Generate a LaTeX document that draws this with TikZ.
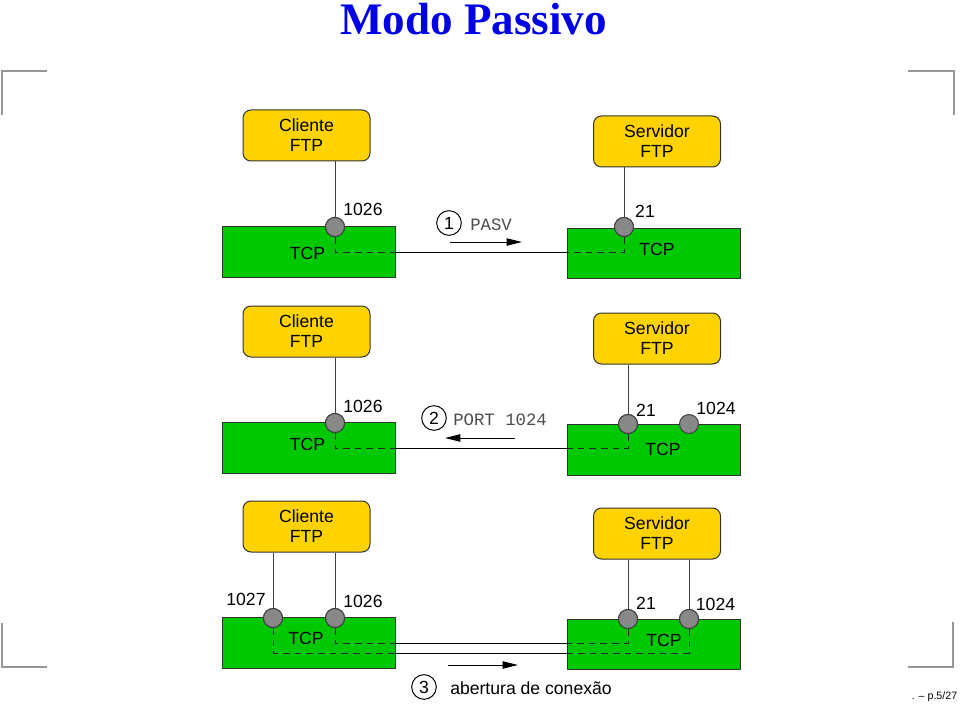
\documentclass[tikz,border=0pt]{standalone}
\usepackage{fontspec}
\setmainfont{Liberation Sans}
\setmonofont{Liberation Mono}
\newfontfamily\titlefont{Liberation Serif}
\usetikzlibrary{arrows.meta}
\definecolor{ftpgold}{RGB}{255,211,0}
\definecolor{tcpgreen}{RGB}{0,200,0}
\definecolor{portgray}{RGB}{136,136,136}
\definecolor{titleblue}{RGB}{0,0,230}
\definecolor{cornergray}{RGB}{150,150,150}
\tikzset{
  txt/.style={font=\fontsize{13.2}{15}\selectfont, inner sep=0pt},
  ftpbox/.style={rectangle, rounded corners=6pt, fill=ftpgold, draw=black!80, line width=0.75pt,
    minimum width=95.25pt, minimum height=38.25pt, align=center, inner sep=0pt,
    font=\fontsize{13.2}{15}\selectfont},
  tcpbox/.style={rectangle, fill=tcpgreen, draw=black!80, line width=0.75pt,
    minimum width=129.75pt, minimum height=37.75pt, inner sep=0pt},
  port/.style={circle, fill=portgray, draw=black!75, line width=0.75pt, minimum size=14.25pt, inner sep=0pt},
  stepnum/.style={circle, draw=black, line width=0.75pt, minimum size=18.5pt, inner sep=0pt,
    font=\fontsize{13.2}{15}\selectfont},
  mono/.style={font=\fontsize{13}{15}\ttfamily, text=black!70, inner sep=0pt},
  vconn/.style={draw=black!75, line width=0.75pt},
  hconn/.style={draw=black, line width=0.75pt},
  dconn/.style={draw=black!85, line width=0.75pt, dash pattern=on 5pt off 3.75pt},
  flow/.style={draw=black, line width=0.75pt, -{Triangle[length=11.5pt,width=5.5pt]}},
  cornermark/.style={draw=cornergray, line width=1.1pt},
}
\begin{document}
\begin{tikzpicture}[x=0.75pt,y=-0.75pt]
\useasboundingbox (0,0) rectangle (960,706);

% title
\node[font=\titlefont\bfseries\fontsize{33.8}{40}\selectfont, text=titleblue, inner sep=0pt] (title) at (473.5,19) {Modo Passivo};

% corner marks
\draw[cornermark] (2,115) -- (2,71) -- (47,71);
\draw[cornermark] (908,71) -- (954,71) -- (954,115);
\draw[cornermark] (2,623) -- (2,667) -- (47,667);
\draw[cornermark] (908,667) -- (953,667) -- (953,622);

% footer
\node[font=\fontsize{8}{10}\selectfont, inner sep=0pt] (footer) at (934.5,697) {. -- p.5/27};

%%%%%%%%%%%%%%%% Panel 1
\node[ftpbox] (cli1) at (306.5,135.5) {Cliente\\FTP};
\node[ftpbox] (srv1) at (657,141.5) {Servidor\\FTP};
\node[tcpbox] (tcpL1) at (308.5,252) {};
\node[tcpbox] (tcpR1) at (654,253.5) {};
\node[txt] (tL1) at (307.5,253) {TCP};
\node[txt] (tR1) at (657,249.5) {TCP};
\node[port] (pL1) at (335,227) {};
\node[port] (pR1) at (624,227) {};
\node[txt] (lL1) at (363,209.5) {1026};
\node[txt] (lR1) at (645,211) {21};
\coordinate (dL1) at (335,252);
\coordinate (dR1) at (624,252);
\draw[vconn] (cli1.south -| pL1) -- (pL1.north);
\draw[vconn] (srv1.south -| pR1) -- (pR1.north);
\draw[dconn] (pL1.south) -- (dL1) -- (tcpL1.east |- dL1);
\draw[dconn] (pR1.south) -- (dR1) -- (tcpR1.west |- dR1);
\draw[hconn] (tcpL1.east |- dL1) -- (tcpR1.west |- dL1);
\node[port] at (pL1) {};
\node[port] at (pR1) {};
\node[stepnum] (s1) at (449,223) {1};
\node[mono, anchor=west] (m1) at (470,225) {PASV};
\coordinate (a1s) at (450,242);
\coordinate (a1e) at (522,242);
\draw[flow] (a1s) -- (a1e);

%%%%%%%%%%%%%%%% Panel 2
\node[ftpbox] (cli2) at (306.5,331.5) {Cliente\\FTP};
\node[ftpbox] (srv2) at (657,338.5) {Servidor\\FTP};
\node[tcpbox] (tcpL2) at (308.5,448) {};
\node[tcpbox] (tcpR2) at (654,450) {};
\node[txt] (tL2) at (307.5,444.5) {TCP};
\node[txt] (tR2) at (663,449.5) {TCP};
\node[port] (pL2) at (335,423) {};
\node[port] (pR2a) at (628,424) {};
\node[port] (pR2b) at (689,424) {};
\node[txt] (lL2) at (363,406.5) {1026};
\node[txt] (lR2a) at (646,410.5) {21};
\node[txt] (lR2b) at (716,408.5) {1024};
\coordinate (dL2) at (335,448.5);
\coordinate (dR2) at (628,448.5);
\draw[vconn] (cli2.south -| pL2) -- (pL2.north);
\draw[vconn] (srv2.south -| pR2a) -- (pR2a.north);
\draw[dconn] (pL2.south) -- (dL2) -- (tcpL2.east |- dL2);
\draw[dconn] (pR2a.south) -- (dR2) -- (tcpR2.west |- dR2);
\draw[hconn] (tcpL2.east |- dL2) -- (tcpR2.west |- dL2);
\node[port] at (pL2) {};
\node[port] at (pR2a) {};
\node[stepnum] (s2) at (434,418) {2};
\node[mono, anchor=west] (m2) at (453,420) {PORT 1024};
\coordinate (a2s) at (515,438);
\coordinate (a2e) at (445,438);
\draw[flow] (a2s) -- (a2e);

%%%%%%%%%%%%%%%% Panel 3
\node[ftpbox] (cli3) at (306.5,526.5) {Cliente\\FTP};
\node[ftpbox] (srv3) at (657,533.5) {Servidor\\FTP};
\node[tcpbox] (tcpL3) at (308.5,643) {};
\node[tcpbox] (tcpR3) at (654,644.5) {};
\node[txt] (tL3) at (306,638.5) {TCP};
\node[txt] (tR3) at (664,640) {TCP};
\node[port] (pL3a) at (273,618) {};
\node[port] (pL3b) at (335,618) {};
\node[port] (pR3a) at (628,619) {};
\node[port] (pR3b) at (689,619) {};
\node[txt] (lL3a) at (246,599.5) {1027};
\node[txt] (lL3b) at (363,601) {1026};
\node[txt] (lR3a) at (646,603) {21};
\node[txt] (lR3b) at (715.5,604.5) {1024};
\coordinate (dL3b) at (335,643);
\coordinate (dL3a) at (273,653);
\coordinate (dR3a) at (628,643);
\coordinate (dR3b) at (689,653);
\draw[vconn] (cli3.south -| pL3a) -- (pL3a.north);
\draw[vconn] (cli3.south -| pL3b) -- (pL3b.north);
\draw[vconn] (srv3.south -| pR3a) -- (pR3a.north);
\draw[vconn] (srv3.south -| pR3b) -- (pR3b.north);
\draw[dconn] (pL3b.south) -- (dL3b) -- (tcpL3.east |- dL3b);
\draw[dconn] (pL3a.south) -- (dL3a) -- (tcpL3.east |- dL3a);
\draw[dconn] (pR3a.south) -- (dR3a) -- (tcpR3.west |- dR3a);
\draw[dconn] (pR3b.south) -- (dR3b) -- (tcpR3.west |- dR3b);
\draw[hconn] (tcpL3.east |- dL3b) -- (tcpR3.west |- dL3b);
\draw[hconn] (tcpL3.east |- dL3a) -- (tcpR3.west |- dL3a);
\node[port] at (pL3a) {};
\node[port] at (pL3b) {};
\node[port] at (pR3a) {};
\node[port] at (pR3b) {};
\coordinate (a3s) at (448,665);
\coordinate (a3e) at (518,665);
\draw[flow] (a3s) -- (a3e);
\node[stepnum] (s3) at (424,687) {3};
\node[txt, anchor=west] (m3) at (450,688) {abertura de conexão};
\end{tikzpicture}
\end{document}
